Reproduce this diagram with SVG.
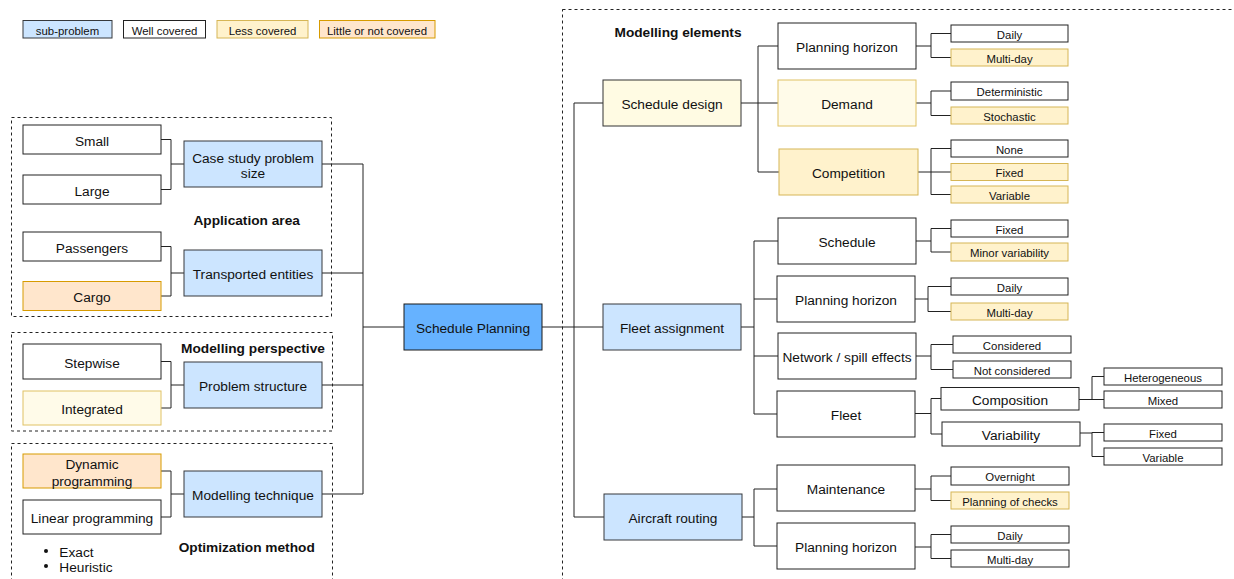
<svg xmlns="http://www.w3.org/2000/svg" width="1234" height="579" viewBox="0 0 1234 579">
<style>
text{font-family:"Liberation Sans",Arial,sans-serif;fill:#111;text-anchor:middle}
.t{font-size:13.7px;transform:translateY(1px)}
.s{font-size:11.4px;transform:translateY(1px)}
.b{font-size:13.7px;font-weight:bold}
.sub{fill:#cce5ff;stroke:#36393d;stroke-width:1}
.root{fill:#66b2ff;stroke:#1a1a1a;stroke-width:1}
.well{fill:#ffffff;stroke:#222;stroke-width:1}
.less{fill:#fff2cc;stroke:#d6b656;stroke-width:1}
.little{fill:#ffe6cc;stroke:#d79b00;stroke-width:1}
.light{fill:#fffbe9;stroke:#e0c264;stroke-width:1}
.sd{fill:#fffbe3;stroke:#333;stroke-width:1}
.dash{fill:none;stroke:#222;stroke-width:1;stroke-dasharray:3 3}
.c{fill:none;stroke:#222;stroke-width:1}
</style>
<g id="legend">
<rect class="sub" x="23" y="20.5" width="89" height="17.5"/><text class="s" x="67.5" y="33.5">sub-problem</text>
<rect class="well" x="123.5" y="20.5" width="82" height="17.5"/><text class="s" x="164.5" y="33.5">Well covered</text>
<rect class="less" x="217" y="20.5" width="91" height="17.5"/><text class="s" x="262.5" y="33.5">Less covered</text>
<rect class="little" x="319.5" y="20.5" width="115.5" height="17.5"/><text class="s" x="377" y="33.5">Little or not covered</text>
</g>
<g id="panels">
<rect class="dash" x="11.5" y="117.5" width="320" height="199"/>
<rect class="dash" x="11.5" y="332.5" width="321" height="98.5"/>
<rect class="dash" x="11.5" y="443.5" width="321" height="150"/>
<rect class="dash" x="562.5" y="9.5" width="700" height="600"/>
<text class="b" x="246.7" y="225">Application area</text>
<text class="b" x="253" y="353">Modelling perspective</text>
<text class="b" x="246.7" y="551.7">Optimization method</text>
<text class="b" x="678" y="37">Modelling elements</text>
<circle cx="46" cy="551" r="2" fill="#111"/><text class="t" x="59.3" y="555.5" style="text-anchor:start">Exact</text>
<circle cx="46" cy="566" r="2" fill="#111"/><text class="t" x="59.3" y="570.5" style="text-anchor:start">Heuristic</text>
</g>
<g id="connectors">
<path class="c" d="M161,139.5H171V189.5H161M171,164H184"/>
<path class="c" d="M161,246.5H171V296H161M171,273H184"/>
<path class="c" d="M161,361.5H171V408H161M171,385H184"/>
<path class="c" d="M161,471H171V517H161M171,494H184"/>
<path class="c" d="M322,164H363V494H322M322,273H363M322,385H363M363,327H404"/>
<path class="c" d="M542,327H603M574,103V517M574,103H603M574,517H604"/>
<path class="c" d="M741,103H758M758,46V172M758,46H778M758,103H778M758,172H779"/>
<path class="c" d="M916,46H931M931,33.5V57.5M931,33.5H951M931,57.5H951"/>
<path class="c" d="M916,103H931M931,91V115.5M931,91H951M931,115.5H951"/>
<path class="c" d="M918,172H931M931,148.5V194.5M931,148.5H951M931,172H951M931,194.5H951"/>
<path class="c" d="M741,327H754M754,241V414M754,241H778M754,299H777M754,356H778M754,414H777"/>
<path class="c" d="M916,241H931M931,228.5V252M931,228.5H951M931,252H951"/>
<path class="c" d="M915,299H928M928,286.5V311.5M928,286.5H951M928,311.5H951"/>
<path class="c" d="M916,356H931M931,344.5V369.5M931,344.5H953M931,369.5H953"/>
<path class="c" d="M915,413.5H931M931,398.5V434M931,398.5H941M931,434H942"/>
<path class="c" d="M1079,399.5H1092M1092,376.5V399.5M1092,376.5H1104M1092,399.5H1104"/>
<path class="c" d="M1080,433H1092M1092,432.5V456.5M1092,432.5H1104M1092,456.5H1104"/>
<path class="c" d="M742,517H754M754,489V546M754,489H777M754,546H777"/>
<path class="c" d="M915,489H931M931,476V500.5M931,476H951M931,500.5H951"/>
<path class="c" d="M915,547H931M931,534.5V558.5M931,534.5H951M931,558.5H951"/>
</g>
<g id="small"><rect class="well" x="23" y="125" width="138" height="29"/><text class="t" x="92" y="144.5">Small</text></g>
<g id="large"><rect class="well" x="23" y="175" width="138" height="29"/><text class="t" x="92" y="194.5">Large</text></g>
<g id="case-study"><rect class="sub" x="184" y="141" width="138" height="46"/><text class="t" x="253" y="161.5">Case study problem</text><text class="t" x="253" y="177">size</text></g>
<g id="passengers"><rect class="well" x="23" y="232" width="138" height="29"/><text class="t" x="92" y="251.5">Passengers</text></g>
<g id="cargo"><rect class="little" x="23" y="281.5" width="138" height="29"/><text class="t" x="92" y="301">Cargo</text></g>
<g id="transported"><rect class="sub" x="184" y="250" width="138" height="46"/><text class="t" x="253" y="278">Transported entities</text></g>
<g id="stepwise"><rect class="well" x="23" y="344" width="138" height="35"/><text class="t" x="92" y="366.5">Stepwise</text></g>
<g id="integrated"><rect class="light" x="23" y="391" width="138" height="34"/><text class="t" x="92" y="413">Integrated</text></g>
<g id="problem-structure"><rect class="sub" x="184" y="362" width="138" height="46"/><text class="t" x="253" y="390">Problem structure</text></g>
<g id="dynamic"><rect class="little" x="23" y="454" width="138" height="34"/><text class="t" x="92" y="468">Dynamic</text><text class="t" x="92" y="485">programming</text></g>
<g id="linear"><rect class="well" x="23" y="500" width="138" height="34"/><text class="t" x="92" y="522">Linear programming</text></g>
<g id="modelling-technique"><rect class="sub" x="184" y="471" width="138" height="46"/><text class="t" x="253" y="499">Modelling technique</text></g>
<g id="schedule-planning"><rect class="root" x="404" y="304" width="138" height="46"/><text class="t" x="473" y="332">Schedule Planning</text></g>
<g id="schedule-design"><rect class="sd" x="603" y="80" width="138" height="46"/><text class="t" x="672" y="108">Schedule design</text></g>
<g id="sd-horizon"><rect class="well" x="778" y="23" width="138" height="46"/><text class="t" x="847" y="51">Planning horizon</text></g>
<g id="demand"><rect class="light" x="778" y="80" width="138" height="46"/><text class="t" x="847" y="108">Demand</text></g>
<g id="competition"><rect class="less" x="779" y="149" width="139" height="46"/><text class="t" x="848.5" y="177">Competition</text></g>
<g id="sd-daily"><rect class="well" x="951" y="25" width="117" height="17"/><text class="s" x="1009.5" y="37.5">Daily</text></g>
<g id="sd-multi"><rect class="less" x="951" y="49" width="117" height="17"/><text class="s" x="1009.5" y="61.5">Multi-day</text></g>
<g id="deterministic"><rect class="well" x="951" y="82" width="117" height="18"/><text class="s" x="1009.5" y="95">Deterministic</text></g>
<g id="stochastic"><rect class="less" x="951" y="107" width="117" height="17"/><text class="s" x="1009.5" y="119.5">Stochastic</text></g>
<g id="none"><rect class="well" x="951" y="140" width="117" height="17"/><text class="s" x="1009.5" y="152.5">None</text></g>
<g id="comp-fixed"><rect class="less" x="951" y="163.5" width="117" height="17"/><text class="s" x="1009.5" y="176">Fixed</text></g>
<g id="comp-variable"><rect class="less" x="951" y="186" width="117" height="17"/><text class="s" x="1009.5" y="198.5">Variable</text></g>
<g id="fleet-assignment"><rect class="sub" x="603" y="304" width="138" height="46"/><text class="t" x="672" y="332">Fleet assignment</text></g>
<g id="schedule"><rect class="well" x="778" y="218" width="138" height="46"/><text class="t" x="847" y="246">Schedule</text></g>
<g id="fa-horizon"><rect class="well" x="777" y="276" width="138" height="46"/><text class="t" x="846" y="304">Planning horizon</text></g>
<g id="network"><rect class="well" x="778" y="333" width="138" height="46"/><text class="t" x="847" y="361">Network / spill effects</text></g>
<g id="fleet"><rect class="well" x="777" y="391" width="138" height="46"/><text class="t" x="846" y="419">Fleet</text></g>
<g id="sch-fixed"><rect class="well" x="951" y="220" width="117" height="17"/><text class="s" x="1009.5" y="232.5">Fixed</text></g>
<g id="minor"><rect class="less" x="951" y="243" width="117" height="18"/><text class="s" x="1009.5" y="256">Minor variability</text></g>
<g id="fa-daily"><rect class="well" x="951" y="278" width="117" height="17"/><text class="s" x="1009.5" y="290.5">Daily</text></g>
<g id="fa-multi"><rect class="less" x="951" y="303" width="117" height="17"/><text class="s" x="1009.5" y="315.5">Multi-day</text></g>
<g id="considered"><rect class="well" x="953" y="336" width="118" height="17"/><text class="s" x="1012" y="348.5">Considered</text></g>
<g id="not-considered"><rect class="well" x="953" y="361" width="118" height="17"/><text class="s" x="1012" y="373.5">Not considered</text></g>
<g id="composition"><rect class="well" x="941" y="387.5" width="138" height="22.5"/><text class="t" x="1010" y="403.5">Composition</text></g>
<g id="variability"><rect class="well" x="942" y="422" width="138" height="24"/><text class="t" x="1011" y="439">Variability</text></g>
<g id="heterogeneous"><rect class="well" x="1104" y="368" width="118" height="17"/><text class="s" x="1163" y="380.5">Heterogeneous</text></g>
<g id="mixed"><rect class="well" x="1104" y="391" width="118" height="17"/><text class="s" x="1163" y="403.5">Mixed</text></g>
<g id="var-fixed"><rect class="well" x="1104" y="424" width="118" height="17"/><text class="s" x="1163" y="436.5">Fixed</text></g>
<g id="var-variable"><rect class="well" x="1104" y="448" width="118" height="17"/><text class="s" x="1163" y="460.5">Variable</text></g>
<g id="aircraft-routing"><rect class="sub" x="604" y="494" width="138" height="46"/><text class="t" x="673" y="522">Aircraft routing</text></g>
<g id="maintenance"><rect class="well" x="777" y="465" width="138" height="46"/><text class="t" x="846" y="493">Maintenance</text></g>
<g id="ar-horizon"><rect class="well" x="777" y="523" width="138" height="46"/><text class="t" x="846" y="551">Planning horizon</text></g>
<g id="overnight"><rect class="well" x="951" y="467" width="118" height="18"/><text class="s" x="1010" y="480">Overnight</text></g>
<g id="checks"><rect class="less" x="951" y="492" width="118" height="17"/><text class="s" x="1010" y="504.5">Planning of checks</text></g>
<g id="ar-daily"><rect class="well" x="951" y="526" width="118" height="17"/><text class="s" x="1010" y="538.5">Daily</text></g>
<g id="ar-multi"><rect class="well" x="951" y="550" width="118" height="17"/><text class="s" x="1010" y="562.5">Multi-day</text></g>
</svg>
